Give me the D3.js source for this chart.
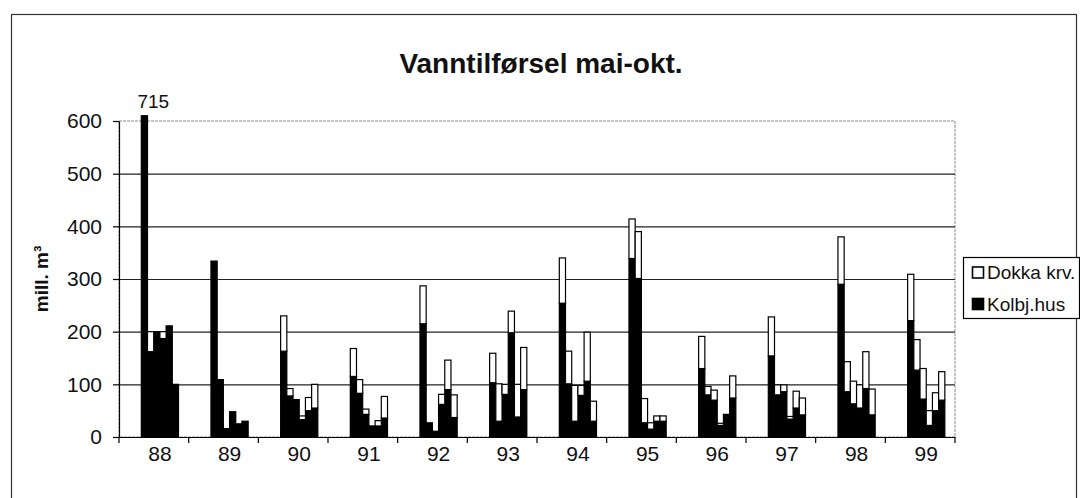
<!DOCTYPE html>
<html>
<head>
<meta charset="utf-8">
<script src="https://cdn.jsdelivr.net/npm/d3@7"></script>
<style>
  body { margin: 0; background: #fff; }
  text { font-family: Arial, "Liberation Sans", sans-serif; fill: #111; }
</style>
</head>
<body>
<div class="chart"></div>
<script>
// inflow mai-okt, mill. m3, one row per year
const years = ["88", "89", "90", "91", "92", "93", "94", "95", "96", "97", "98", "99"];
const months = ["mai", "jun", "jul", "aug", "sep", "okt"];
const kolbjHus = [
  [715, 162, 200, 187, 211, 100],
  [334, 109, 16, 48, 25, 30],
  [163, 78, 71, 33, 50, 55],
  [115, 83, 43, 21, 21, 36],
  [215, 27, 11, 62, 90, 37],
  [103, 30, 81, 198, 38, 90],
  [254, 101, 30, 79, 106, 30],
  [339, 301, 27, 15, 30, 30],
  [130, 80, 70, 22, 43, 74],
  [154, 80, 86, 34, 55, 42],
  [290, 86, 63, 55, 92, 42],
  [221, 127, 72, 22, 50, 70]
];
const dokkaKrv = [
  [0, 38, 0, 13, 0, 0],
  [0, 0, 0, 0, 0, 0],
  [67, 14, 0, 7, 25, 45],
  [53, 26, 10, 0, 10, 41],
  [72, 0, 0, 19, 56, 43],
  [56, 71, 19, 41, 62, 80],
  [86, 62, 68, 19, 93, 38],
  [75, 89, 46, 12, 10, 10],
  [61, 16, 19, 4, 0, 42],
  [74, 19, 13, 5, 32, 32],
  [90, 57, 43, 44, 70, 49],
  [88, 58, 58, 28, 34, 54]
];
const yTicks = [0, 100, 200, 300, 400, 500, 600];
const seriesNames = ["Dokka krv.", "Kolbj.hus"];

const w = 1080;
const h = 498;
const plotL = 119, plotR = 955, plotT = 121, plotB = 437;
const barCap = 610; // the 715 bar is cut just above the axis top

let svg = d3.select(".chart").append("svg")
  .attr("width", w)
  .attr("height", h);

// outer frame
svg.append("rect")
  .attr("x", 11.5).attr("y", 14.5)
  .attr("width", 1065).attr("height", 500)
  .attr("fill", "none").attr("stroke", "#333").attr("stroke-width", 1.2);

const x = d3.scaleBand().domain(years).range([plotL, plotR]);
const xm = d3.scaleBand().domain(months).range([22.3, 59.5]);
const y = d3.scaleLinear().domain([0, 600]).range([plotB, plotT]);

// plot area border
svg.append("rect")
  .attr("x", plotL).attr("y", plotT)
  .attr("width", plotR - plotL).attr("height", plotB - plotT)
  .attr("fill", "none").attr("stroke", "#8a8a8a").attr("stroke-width", 1)
  .attr("stroke-dasharray", "3,1");

// gridlines
svg.append("g")
  .attr("transform", `translate(${plotL},0)`)
  .call(d3.axisLeft(y).tickValues(yTicks.slice(1, -1)).tickSize(-(plotR - plotL)).tickFormat(""))
  .call(g => g.select(".domain").remove())
  .call(g => g.selectAll("line").attr("stroke", "#222").attr("stroke-width", 1.2));

// stacked bars
let rows = [];
years.forEach((yr, i) => {
  months.forEach((m, j) => {
    rows.push({ year: yr, month: m, kolbj: kolbjHus[i][j], dokka: dokkaKrv[i][j] });
  });
});
const stacked = d3.stack().keys(["kolbj", "dokka"])(rows);
const fills = { kolbj: "#000", dokka: "#fff" };

svg.append("g").selectAll("g")
  .data(stacked)
  .enter().append("g")
  .attr("fill", d => fills[d.key])
  .selectAll("rect")
  .data(d => d.filter(s => s[1] > s[0]))
  .enter().append("rect")
  .attr("x", d => x(d.data.year) + xm(d.data.month))
  .attr("y", d => y(Math.min(d[1], barCap)))
  .attr("width", xm.bandwidth())
  .attr("height", d => y(Math.min(d[0], barCap)) - y(Math.min(d[1], barCap)))
  .attr("stroke", "#000")
  .attr("stroke-width", 1.2);

// label for the cut bar
svg.append("text")
  .attr("x", x("88") + xm("mai") + 12)
  .attr("y", 108)
  .attr("text-anchor", "middle")
  .style("font-size", "19px")
  .text(kolbjHus[0][0]);

// y axis
svg.append("g")
  .attr("transform", `translate(${plotL},0)`)
  .call(d3.axisLeft(y).tickValues(yTicks).tickSize(6).tickSizeOuter(0).tickPadding(11))
  .call(g => g.selectAll("path,line").attr("stroke", "#000").attr("stroke-width", 1.2))
  .call(g => g.selectAll("text").style("font-size", "21px").attr("fill", "#111"));

// x axis, labels under the bar groups
const groupMid = xm.range()[0] + (xm.range()[1] - xm.range()[0]) / 2 - x.bandwidth() / 2;
svg.append("g")
  .attr("transform", `translate(0,${plotB})`)
  .call(d3.axisBottom(x).tickSize(0).tickSizeOuter(0).tickPadding(9))
  .call(g => g.select(".domain").attr("stroke", "#000").attr("stroke-width", 1.2))
  .call(g => g.selectAll("text")
    .attr("dx", groupMid)
    .style("font-size", "21px").attr("fill", "#111"));

// tick marks between categories
const edges = years.map(d => x(d)).concat([plotR]);
svg.append("g").selectAll("line")
  .data(edges)
  .enter().append("line")
  .attr("x1", d => d).attr("x2", d => d)
  .attr("y1", plotB).attr("y2", plotB + 6)
  .attr("stroke", "#000").attr("stroke-width", 1.2);

// title
svg.append("text")
  .attr("x", 541).attr("y", 73)
  .attr("text-anchor", "middle")
  .style("font-size", "28px").style("font-weight", "bold")
  .text("Vanntilførsel mai-okt.");

// y title
svg.append("text")
  .attr("transform", `translate(48,${(plotT + plotB) / 2}) rotate(-90)`)
  .attr("text-anchor", "middle")
  .style("font-size", "19px").style("font-weight", "bold")
  .text("mill. m³");

// legend
let legend = svg.append("g").attr("transform", "translate(963,257)");
legend.append("rect")
  .attr("x", 0.5).attr("y", 0.5).attr("width", 116).attr("height", 61)
  .attr("fill", "#fff").attr("stroke", "#000").attr("stroke-width", 1.2);
const legendFill = ["#fff", "#000"];
seriesNames.forEach((name, i) => {
  legend.append("rect")
    .attr("x", 9.5).attr("y", 10 + i * 31.5)
    .attr("width", 11).attr("height", 11)
    .attr("fill", legendFill[i]).attr("stroke", "#000").attr("stroke-width", 1.6);
  legend.append("text")
    .attr("x", 24).attr("y", 22 + i * 31.5)
    .style("font-size", "19px")
    .text(name);
});
</script>
</body>
</html>
